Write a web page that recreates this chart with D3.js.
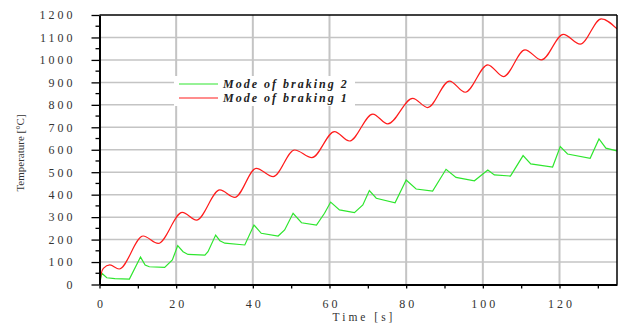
<!DOCTYPE html>
<html>
<head>
<meta charset="utf-8">
<script src="https://cdn.jsdelivr.net/npm/d3@7"></script>
<style>
  html, body { margin: 0; padding: 0; background: #fff; }
  svg { display: block; }
  text { font-family: "Liberation Serif", "DejaVu Serif", serif; }
</style>
</head>
<body>
<svg id="chart" width="622" height="329"></svg>
<script>
// Time axis ticks [s] and temperature axis ticks [°C]
const timeTicks = [0, 20, 40, 60, 80, 100, 120];
const tempTicks = [0, 100, 200, 300, 400, 500, 600, 700, 800, 900, 1000, 1100, 1200];

// Mode of braking 1 (smooth curve)
const brake1Time = [0, 0.4, 1, 2.7, 5.1, 11.4, 15.3, 21.6, 25.3, 31.4, 35.3, 40.9, 45.3, 50.9, 55.4, 61.3, 65.2, 71.3, 75.2, 81.7, 85.6, 91.3, 95.4, 101.3, 105.4, 111, 115.3, 121, 125.4, 130.9, 135];
const brake1Temp = [0, 45, 72, 87, 69, 216, 183, 321, 287, 421, 388, 517, 480, 599, 565, 681, 639, 759, 715, 829, 788, 906, 856, 978, 926, 1045, 1000, 1114, 1070, 1183, 1138];

// Mode of braking 2 (piecewise linear)
const brake2Time = [0, 0.6, 1.9, 4, 7.8, 10.7, 11.9, 13, 17, 19, 20.4, 21.8, 23.1, 27.5, 28.3, 30.3, 31.4, 32.7, 37.9, 40.3, 42.2, 46.6, 48.3, 50.5, 52.7, 56.6, 58.7, 60.3, 62.6, 66.5, 68.7, 70.4, 72.2, 77.1, 80, 82.6, 86.9, 90.4, 93, 97.8, 101.3, 103, 107.2, 110.5, 112.5, 118.2, 120.2, 122.1, 128, 130.3, 132.1, 135];
const brake2Temp = [0, 50, 30, 26, 24, 122, 87, 79, 76, 109, 173, 146, 134, 131, 146, 220, 195, 184, 176, 265, 228, 216, 243, 317, 275, 265, 317, 367, 332, 320, 354, 418, 384, 364, 465, 425, 416, 513, 477, 462, 510, 488, 483, 574, 537, 523, 614, 581, 562, 648, 607, 595];

const legendItems = [
  { label: "Mode of braking 2", color: "#2ee62e" },
  { label: "Mode of braking 1", color: "#ff1c1c" }
];

const plot = { left: 99.5, right: 617, top: 15, bottom: 284.5 };

const svg = d3.select("#chart");
const x = d3.scaleLinear().domain([0, 135]).range([plot.left, plot.right]);
const y = d3.scaleLinear().domain([0, 1200]).range([plot.bottom, plot.top]);

// Grid
const grid = svg.append("g");
grid.selectAll("line.h").data(tempTicks.slice(1, -1)).join("line")
  .attr("x1", plot.left).attr("x2", plot.right)
  .attr("y1", d => y(d)).attr("y2", d => y(d))
  .attr("stroke", "#c4c4c4").attr("stroke-width", 1.5);
grid.selectAll("line.v").data(timeTicks.slice(1)).join("line")
  .attr("x1", d => x(d)).attr("x2", d => x(d))
  .attr("y1", plot.top).attr("y2", plot.bottom)
  .attr("stroke", "#c4c4c4").attr("stroke-width", 2);

// Clip for data lines
svg.append("clipPath").attr("id", "clip").append("rect")
  .attr("x", plot.left).attr("y", plot.top)
  .attr("width", plot.right - plot.left).attr("height", plot.bottom - plot.top);

const smooth = d3.line().x(d => x(d[0])).y(d => y(d[1])).curve(d3.curveMonotoneX);
const straight = d3.line().x(d => x(d[0])).y(d => y(d[1]));

svg.append("path")
  .datum(brake2Time.map((t, i) => [t, brake2Temp[i]]))
  .attr("d", straight).attr("fill", "none")
  .attr("stroke", legendItems[0].color).attr("stroke-width", 1.2)
  .attr("clip-path", "url(#clip)");
svg.append("path")
  .datum(brake1Time.map((t, i) => [t, brake1Temp[i]]))
  .attr("d", smooth).attr("fill", "none")
  .attr("stroke", legendItems[1].color).attr("stroke-width", 1.2)
  .attr("clip-path", "url(#clip)");

// Frame
svg.append("line").attr("x1", plot.left).attr("x2", plot.right).attr("y1", plot.top).attr("y2", plot.top)
  .attr("stroke", "#000").attr("stroke-width", 1.5);
svg.append("line").attr("x1", plot.right).attr("x2", plot.right).attr("y1", plot.top).attr("y2", plot.bottom)
  .attr("stroke", "#000").attr("stroke-width", 1.5);

// Y axis
const yAxis = svg.append("g").attr("transform", `translate(${plot.left},0)`)
  .call(d3.axisLeft(y).tickValues(tempTicks).tickSize(8).tickSizeOuter(0).tickFormat(d3.format("d")));
yAxis.attr("font-family", null);
yAxis.select(".domain").attr("stroke", "#000").attr("stroke-width", 2);
yAxis.selectAll(".tick line").attr("stroke", "#000").attr("stroke-width", 1.3);
yAxis.selectAll(".tick text")
  .attr("x", -24).attr("font-size", 12).attr("letter-spacing", "3px").attr("fill", "#333");
// minor y ticks
svg.append("g").selectAll("line").data(d3.range(50, 1200, 100)).join("line")
  .attr("x1", plot.left - 4).attr("x2", plot.left)
  .attr("y1", d => y(d)).attr("y2", d => y(d))
  .attr("stroke", "#000").attr("stroke-width", 1.3);

// X axis
const xAxis = svg.append("g").attr("transform", `translate(0,${plot.bottom})`)
  .call(d3.axisBottom(x).tickValues(d3.range(0, 136, 10)).tickSize(4).tickSizeOuter(0)
    .tickFormat(d => timeTicks.includes(d) ? d : ""));
xAxis.attr("font-family", null);
xAxis.select(".domain").attr("stroke", "#000").attr("stroke-width", 2);
xAxis.selectAll(".tick line").attr("stroke", "#000").attr("stroke-width", 1.3);
xAxis.selectAll(".tick text")
  .attr("y", 23.5).attr("dy", 0).attr("dx", 1.5)
  .attr("font-size", 12).attr("letter-spacing", "3px").attr("fill", "#333");

// Axis titles
svg.append("text").attr("x", 364).attr("y", 321).attr("text-anchor", "middle")
  .attr("font-size", 11.5).attr("letter-spacing", "3px").attr("fill", "#333")
  .text("Time [s]");
svg.append("text").attr("transform", "translate(24,153) rotate(-90)")
  .attr("text-anchor", "middle").attr("font-size", 11).attr("fill", "#333")
  .text("Temperature [°C]");

// Legend
const lg = svg.append("g");
lg.append("rect").attr("x", 174).attr("y", 76).attr("width", 181).attr("height", 30).attr("fill", "#fff");
legendItems.forEach((item, i) => {
  const ly = 84 + i * 14;
  lg.append("line").attr("x1", 179).attr("x2", 218).attr("y1", ly).attr("y2", ly)
    .attr("stroke", item.color).attr("stroke-width", 1.2);
  lg.append("text").attr("x", 223).attr("y", ly + 3.5)
    .attr("font-size", 12).attr("font-style", "italic").attr("font-weight", "bold")
    .attr("letter-spacing", "2px").attr("fill", "#222")
    .text(item.label);
});
</script>
</body>
</html>
